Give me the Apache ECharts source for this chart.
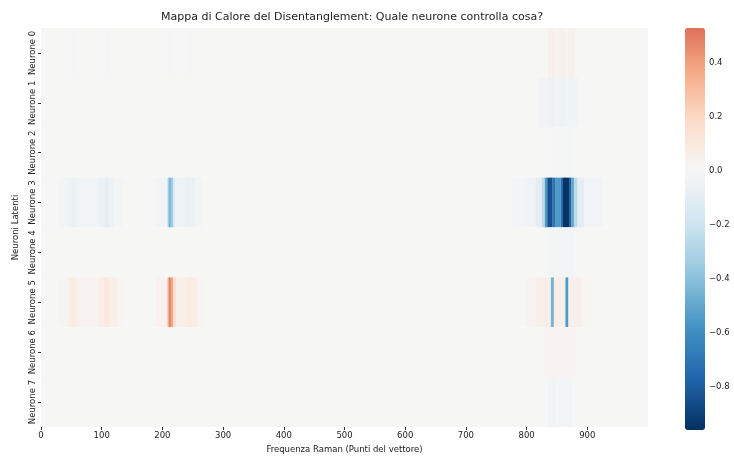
<!DOCTYPE html>
<html>
<head>
<meta charset="utf-8">
<script src="https://cdn.jsdelivr.net/npm/echarts@6/dist/echarts.min.js"></script>
<style>
html, body { margin: 0; padding: 0; background: #fff; }
#chart { width: 734px; height: 459px; }
</style>
</head>
<body>
<div id="chart"></div>
<script>
// righe (neuroni) e tick
var neuroni = ['Neurone 0', 'Neurone 1', 'Neurone 2', 'Neurone 3', 'Neurone 4', 'Neurone 5', 'Neurone 6', 'Neurone 7'];
var xTicks = [0, 100, 200, 300, 400, 500, 600, 700, 800, 900];
var cbTicks = [-0.8, -0.6, -0.4, -0.2, 0, 0.2, 0.4];
var vMin = -0.96, vMax = 0.53;

// segmenti per neurone: [inizio, fine, valore]
var neurone0 = [[0, 1000, 0], [50, 60, -0.01], [105, 115, -0.01], [208, 218, -0.01], [240, 250, -0.01],
  [835, 848, 0.045], [848, 852, 0.025], [852, 864, 0.045], [864, 868, 0.025], [868, 880, 0.045]];
var neurone1 = [[0, 1000, 0], [820, 835, -0.03], [835, 848, -0.05], [848, 852, -0.03], [852, 864, -0.05],
  [864, 868, -0.03], [868, 885, -0.04]];
var neurone2 = [[0, 1000, 0], [840, 875, -0.01]];
var neurone3 = [[0, 1000, 0],
  [30, 45, -0.02], [45, 50, -0.05], [50, 56, -0.07], [56, 62, -0.05], [62, 95, -0.03],
  [95, 105, -0.06], [105, 112, -0.09], [112, 120, -0.06], [120, 135, -0.02],
  [190, 208, -0.03], [208, 210, -0.2], [210, 214, -0.45], [214, 218, -0.35], [218, 221, -0.15],
  [221, 235, -0.04], [235, 240, -0.06], [240, 243, -0.08], [243, 248, -0.06], [248, 251, -0.08],
  [251, 255, -0.06], [255, 265, -0.02],
  [775, 800, -0.02], [800, 815, -0.04], [815, 825, -0.1], [825, 830, -0.25], [830, 834, -0.55],
  [834, 843, -0.85], [843, 848, -0.7], [848, 856, -0.55], [856, 860, -0.75], [860, 870, -0.95],
  [870, 874, -0.8], [874, 878, -0.5], [878, 884, -0.25], [884, 895, -0.1], [895, 925, -0.03]];
var neurone4 = [[0, 1000, 0], [835, 880, -0.02]];
var neurone5 = [[0, 1000, 0],
  [30, 45, 0.02], [45, 50, 0.06], [50, 56, 0.09], [56, 62, 0.06], [62, 95, 0.03],
  [95, 103, 0.06], [103, 112, 0.1], [112, 125, 0.06], [125, 135, 0.02],
  [190, 208, 0.04], [208, 210, 0.25], [210, 214, 0.48], [214, 218, 0.38], [218, 223, 0.15],
  [223, 235, 0.05], [235, 240, 0.07], [240, 250, 0.09], [250, 258, 0.07], [258, 270, 0.02],
  [800, 815, 0.03], [815, 840, 0.05], [840, 845, -0.45], [845, 864, 0.06], [864, 869, -0.55],
  [869, 890, 0.05], [890, 905, 0.02]];
var neurone6 = [[0, 1000, 0], [830, 880, 0.03]];
var neurone7 = [[0, 1000, 0], [835, 848, -0.03], [848, 852, -0.015], [852, 875, -0.03]];

var righe = [neurone0, neurone1, neurone2, neurone3, neurone4, neurone5, neurone6, neurone7];

// dati per la serie custom: [x0, x1, riga, valore]
var dati = [];
righe.forEach(function (segs, r) {
  segs.forEach(function (s) {
    dati.push([s[0], s[1], r, s[2]]);
  });
});

// palette RdBu_r centrata su 0 (come seaborn center=0)
var rdbu = ['#053061', '#2166ac', '#4393c3', '#92c5de', '#d1e5f0', '#f7f7f7',
  '#fddbc7', '#f4a582', '#d6604d', '#b2182b', '#67001f'];
function hex(c) { return [parseInt(c.substr(1, 2), 16), parseInt(c.substr(3, 2), 16), parseInt(c.substr(5, 2), 16)]; }
function cmap(t) {
  var p = t * 10, i = Math.min(9, Math.floor(p)), f = p - i;
  var a = hex(rdbu[i]), b = hex(rdbu[i + 1]);
  return 'rgb(' + a.map(function (v, k) { return Math.round(v + (b[k] - v) * f); }).join(',') + ')';
}
var span = Math.max(Math.abs(vMin), Math.abs(vMax));
var colori = [];
for (var i = 0; i <= 40; i++) {
  var v = vMin + (vMax - vMin) * i / 40;
  colori.push(cmap((v / span + 1) / 2));
}

var chart = echarts.init(document.getElementById('chart'));
var font = 'DejaVu Sans';

var option = {
  backgroundColor: '#fff',
  animation: false,
  textStyle: { fontFamily: font },
  title: {
    text: 'Mappa di Calore del Disentanglement: Quale neurone controlla cosa?',
    left: 347,
    top: 7,
    textAlign: 'center',
    textStyle: { fontFamily: font, fontSize: 11, fontWeight: 'normal', color: '#222' }
  },
  grid: [
    { left: 41, right: 86, top: 28, bottom: 29 },
    { left: 685, top: 28, width: 20, height: 402 }
  ],
  xAxis: [{
    type: 'value',
    min: 0,
    max: 1000,
    name: 'Frequenza Raman (Punti del vettore)',
    nameLocation: 'middle',
    nameGap: 18,
    nameTextStyle: { fontFamily: font, fontSize: 8.5, color: '#222' },
    axisLine: { show: false },
    splitLine: { show: false },
    axisTick: { show: true, length: 3, customValues: xTicks, lineStyle: { color: '#333' } },
    axisLabel: { customValues: xTicks, fontSize: 8.5, color: '#222', margin: 4 }
  }, {
    gridIndex: 1, type: 'value', show: false
  }],
  yAxis: [{
    type: 'category',
    data: neuroni,
    inverse: true,
    name: 'Neuroni Latenti',
    nameLocation: 'middle',
    nameGap: 21,
    nameRotate: 90,
    nameTextStyle: { fontFamily: font, fontSize: 8.5, color: '#222' },
    axisLine: { show: false },
    splitLine: { show: false },
    axisTick: { show: true, alignWithLabel: true, interval: 0, length: 3, lineStyle: { color: '#333' } },
    axisLabel: { rotate: 90, interval: 0, hideOverlap: false, fontSize: 8.5, color: '#222', margin: 4 }
  }, {
    gridIndex: 1,
    type: 'value',
    min: vMin,
    max: vMax,
    position: 'right',
    axisLine: { show: false },
    splitLine: { show: false },
    axisTick: { show: true, length: 3, customValues: cbTicks, lineStyle: { color: '#333' } },
    axisLabel: {
      customValues: cbTicks, fontSize: 8.5, color: '#222', margin: 4,
      formatter: function (v) { return v < 0 ? '\u2212' + Math.abs(v).toFixed(1) : v.toFixed(1); }
    }
  }],
  visualMap: {
    type: 'continuous',
    min: vMin,
    max: vMax,
    dimension: 3,
    seriesIndex: 0,
    calculable: false,
    hoverLink: false,
    orient: 'vertical',
    left: 685,
    top: 28,
    padding: 0,
    itemWidth: 20,
    itemHeight: 402,
    text: null,
    inRange: { color: colori }
  },
  series: [{
    type: 'custom',
    xAxisIndex: 0,
    yAxisIndex: 0,
    encode: { x: [0, 1], y: 2 },
    data: dati,
    renderItem: function (params, api) {
      var r = api.value(2);
      var p0 = api.coord([api.value(0), r]);
      var p1 = api.coord([api.value(1), r]);
      var h = api.size([0, 1])[1];
      return {
        type: 'rect',
        shape: { x: p0[0], y: p0[1] - h / 2, width: p1[0] - p0[0], height: h },
        style: { fill: api.visual('color') }
      };
    }
  }]
};

chart.setOption(option);
</script>
</body>
</html>
